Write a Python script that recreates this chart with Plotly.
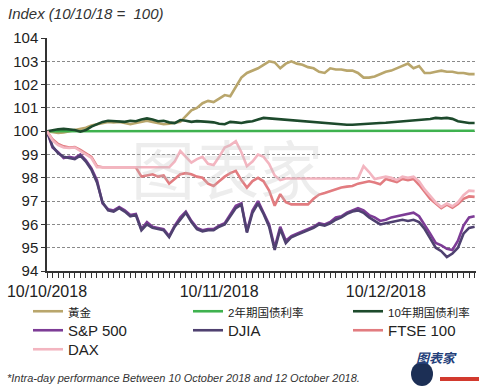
import pandas as pd
import plotly.graph_objects as go

# ---------------- data ----------------
start_date = "2018-10-10"
end_date = "2018-12-26"
dates = pd.date_range(start_date, end_date, freq="D")

gold = [100.0, 99.95, 99.92, 99.95, 100.0, 100.05, 100.1, 100.15, 100.25, 100.3,
        100.35, 100.4, 100.38, 100.4, 100.35, 100.3, 100.35, 100.4, 100.45, 100.4,
        100.35, 100.3, 100.32, 100.35, 100.4, 100.65, 100.9, 101.0, 101.2, 101.3,
        101.25, 101.4, 101.55, 101.5, 101.9, 102.3, 102.5, 102.6, 102.7, 102.85,
        103.0, 102.95, 102.7, 102.9, 103.0, 102.9, 102.85, 102.75, 102.7, 102.55,
        102.5, 102.7, 102.65, 102.65, 102.6, 102.6, 102.5, 102.3, 102.3, 102.35,
        102.45, 102.55, 102.6, 102.7, 102.8, 102.9, 102.7, 102.8, 102.5, 102.5,
        102.55, 102.6, 102.55, 102.55, 102.5, 102.5, 102.45, 102.45]

yield_2y = [100.0, 100.0, 100.01, 100.0, 100.0, 100.01, 100.0, 100.0, 100.0, 100.01,
            100.0, 100.0, 100.0, 100.01, 100.0, 100.0, 100.0, 100.01, 100.0, 100.0,
            100.0, 100.01, 100.0, 100.0, 100.0, 100.01, 100.0, 100.0, 100.0, 100.01,
            100.0, 100.0, 100.0, 100.01, 100.0, 100.0, 100.0, 100.01, 100.0, 100.0,
            100.0, 100.01, 100.0, 100.0, 100.0, 100.01, 100.0, 100.0, 100.0, 100.01,
            100.0, 100.0, 100.0, 100.01, 100.0, 100.0, 100.0, 100.01, 100.0, 100.0,
            100.01, 100.02, 100.02, 100.02, 100.03, 100.02, 100.02, 100.02, 100.03, 100.02,
            100.02, 100.02, 100.03, 100.02, 100.02, 100.02, 100.02, 100.02]

yield_10y = [100.0, 100.05, 100.08, 100.1, 100.08, 100.05, 99.98, 100.05, 100.2, 100.3,
             100.4, 100.45, 100.43, 100.42, 100.4, 100.45, 100.43, 100.5, 100.55, 100.5,
             100.43, 100.45, 100.38, 100.35, 100.48, 100.45, 100.4, 100.43, 100.4, 100.4,
             100.38, 100.32, 100.3, 100.4, 100.38, 100.35, 100.4, 100.43, 100.5, 100.57,
             100.55, 100.53, 100.5, 100.48, 100.46, 100.45, 100.45, 100.42, 100.4, 100.38,
             100.36, 100.35, 100.33, 100.3, 100.28, 100.28, 100.3, 100.3, 100.32, 100.33,
             100.35, 100.36, 100.38, 100.38, 100.4, 100.42, 100.44, 100.47, 100.5, 100.52,
             100.57, 100.55, 100.57, 100.53, 100.43, 100.38, 100.35, 100.35]

sp500 = [100.0, 99.3, 99.1, 98.85, 98.9, 98.85, 99.0, 98.75, 98.4, 97.9,
         96.9, 96.65, 96.6, 96.75, 96.6, 96.4, 96.45, 95.8, 96.1, 95.9,
         95.85, 95.8, 95.5, 95.95, 96.3, 96.55, 96.15, 95.85, 95.75, 95.8,
         95.8, 95.95, 96.05, 96.4, 96.8, 96.9, 95.7, 96.6, 97.0, 96.5,
         96.0, 95.0, 95.9, 95.3, 95.5, 95.6, 95.7, 95.8, 95.9, 96.05,
         96.0, 96.1, 96.3, 96.35, 96.5, 96.6, 96.7, 96.6, 96.4, 96.3,
         96.15, 96.2, 96.3, 96.35, 96.4, 96.45, 96.5, 96.35, 96.0, 95.6,
         95.2, 95.1, 94.95, 94.9, 95.3, 95.95, 96.3, 96.35]

djia = [100.0, 99.35, 99.05, 98.9, 98.85, 98.8, 98.95, 98.7, 98.35, 97.8,
        96.95, 96.6, 96.55, 96.7, 96.55, 96.35, 96.4, 95.75, 96.0, 95.85,
        95.8, 95.75, 95.45, 95.9, 96.2, 96.5, 96.1, 95.8, 95.7, 95.75,
        95.75, 95.9, 96.0, 96.35, 96.7, 96.85, 95.65, 96.5, 96.9, 96.45,
        95.9, 94.9, 95.8, 95.2, 95.45, 95.55, 95.65, 95.75, 95.85, 96.0,
        95.95, 96.05, 96.2, 96.3, 96.45, 96.55, 96.6, 96.5, 96.3, 96.15,
        96.0, 96.05, 96.1, 96.15, 96.2, 96.15, 96.2, 96.1, 95.8, 95.4,
        95.0, 94.85, 94.6, 94.75, 95.0, 95.6, 95.85, 95.9]

ftse100 = [100.0, 99.65, 99.45, 99.35, 99.3, 99.32, 99.2, 99.05, 98.9, 98.5,
           98.45, 98.45, 98.45, 98.45, 98.45, 98.45, 98.45, 98.05, 98.1, 98.15,
           98.05, 98.1, 97.75, 97.95, 98.15, 98.2, 98.15, 98.05, 98.0, 97.75,
           97.65, 97.85, 98.05, 98.2, 98.3, 97.9, 97.58, 97.86, 98.0, 97.85,
           97.45, 96.8, 97.3, 96.95, 96.86, 96.86, 96.86, 96.86, 97.1, 97.28,
           97.35, 97.43, 97.5, 97.58, 97.62, 97.65, 97.75, 97.8, 97.85, 97.8,
           97.72, 97.95, 97.9, 97.82, 97.95, 97.9, 97.95, 97.7, 97.4, 97.1,
           96.9, 96.7, 96.85, 96.72, 96.88, 97.1, 97.2, 97.18]

dax = [100.0, 99.6, 99.4, 99.3, 99.28, 99.3, 99.15, 99.0, 98.85, 98.45,
       98.45, 98.45, 98.45, 98.45, 98.45, 98.45, 98.45, 98.45, 98.45, 98.45,
       98.45, 98.45, 98.45, 98.7, 99.15, 98.9, 98.65, 98.8, 98.9, 98.6,
       98.55, 98.9, 99.3, 99.4, 99.57, 99.1, 98.5, 98.7, 99.0, 98.9,
       98.6, 98.1, 97.9, 97.97, 97.97, 97.97, 97.97, 97.97, 97.97, 97.97,
       97.97, 97.97, 97.97, 97.97, 97.97, 97.97, 97.97, 98.5, 98.25, 97.95,
       98.0, 98.05, 98.0, 97.9, 98.05, 98.0, 98.05, 97.85, 97.5, 97.2,
       96.95, 96.75, 96.9, 96.78, 96.95, 97.25, 97.45, 97.43]

series_names = ["黃金", "2年期国债利率", "10年期国债利率", "S&P 500", "DJIA", "FTSE 100", "DAX"]
series_values = [gold, yield_2y, yield_10y, sp500, djia, ftse100, dax]
series_colors = ["#b9a66c", "#3fb24f", "#1d4a2c", "#7d3c96", "#4f4170", "#e27c80", "#f3b5c0"]
legend_rows = ["legend", "legend", "legend", "legend2", "legend2", "legend2", "legend3"]
cjk_names = {"黃金", "2年期国债利率", "10年期国债利率"}

tick_dates = ["2018-10-10", "2018-11-10", "2018-12-10"]
tick_labels = ["10/10/2018", "10/11/2018", "10/12/2018"]
y_ticks = [94, 95, 96, 97, 98, 99, 100, 101, 102, 103, 104]

title_text = "Index (10/10/18 =  100)"
footnote_text = "*Intra-day performance Between 10 October 2018 and 12 October 2018."

# ---------------- figure ----------------
FONT = "Liberation Sans, Arial, Noto Sans CJK SC, sans-serif"
PX0, PX1, PY0, PY1 = 47, 476, 271, 38   # plot area in pixels (for paper refs)
PW, PH = PX1 - PX0, PY0 - PY1


def px(x):
    return (x - PX0) / PW


def py(y):
    return (PY0 - y) / PH


fig = go.Figure()
for name, vals, col, lg in zip(series_names, series_values, series_colors, legend_rows):
    label = f'<span style="font-size:11.5px">{name}</span>' if name in cjk_names else name
    fig.add_trace(go.Scatter(x=dates, y=vals, mode="lines", name=label, legend=lg,
                             line=dict(color=col, width=2.6)))

# daily tick positions with labels only on the chosen dates
all_days = pd.date_range(start_date, end_date, freq="D")
label_map = {pd.Timestamp(d): t for d, t in zip(tick_dates, tick_labels)}
xt_text = [label_map.get(d, "") for d in all_days]


def legend_row(ycenter):
    return dict(orientation="h", x=px(28), y=py(ycenter), xanchor="left", yanchor="middle",
                entrywidth=115, entrywidthmode="pixels",
                font=dict(size=15, color="#222"), bgcolor="rgba(0,0,0,0)")


fig.update_layout(
    width=500, height=387,
    margin=dict(l=PX0, r=500 - PX1, t=PY1, b=387 - PY0, autoexpand=False),
    paper_bgcolor="white", plot_bgcolor="white",
    font=dict(family=FONT, size=15, color="#222"),
    showlegend=True,
    legend=legend_row(311.5),
    legend2=legend_row(330.5),
    legend3=legend_row(349.5),
    title=dict(text=f"<i>{title_text}</i>", x=8 / 500, xanchor="left",
               y=1 - 14 / 387, yanchor="middle",
               font=dict(size=15, color="#333", family=FONT)),
)

fig.update_xaxes(
    type="date",
    range=[pd.Timestamp(start_date), pd.Timestamp(end_date) + pd.Timedelta(hours=6)],
    tickmode="array", tickvals=list(all_days), ticktext=xt_text,
    ticks="outside", ticklen=5, tickwidth=1, tickcolor="#333",
    showline=True, linecolor="#333", linewidth=1.5,
    showgrid=False, zeroline=False,
    tickfont=dict(size=16, color="#222"),
)
fig.update_yaxes(
    range=[94, 104], tickmode="array", tickvals=y_ticks,
    ticks="outside", ticklen=4, tickcolor="#333",
    showline=True, linecolor="#333", linewidth=1.5,
    showgrid=True, gridcolor="#8a8a8a", gridwidth=1, griddash="3px,2px",
    zeroline=False, tickfont=dict(size=15, color="#222"),
)

# watermark
fig.add_annotation(text="图表家", xref="paper", yref="paper", x=0.42, y=0.45,
                   showarrow=False, font=dict(size=64, color="rgba(190,190,190,0.28)",
                                              family="Noto Sans CJK SC"))
# footnote
fig.add_annotation(text=f"<i>{footnote_text}</i>", xref="paper", yref="paper",
                   x=px(5), y=py(378), xanchor="left", yanchor="middle",
                   showarrow=False, font=dict(size=11, color="#333", family=FONT))
# logo
fig.add_shape(type="circle", xref="paper", yref="paper",
              x0=px(411), x1=px(433), y0=py(386), y1=py(362),
              fillcolor="#1c2f55", line=dict(width=0))
fig.add_annotation(text="<b><i>图表家</i></b>", xref="paper", yref="paper",
                   x=px(459), y=py(369), showarrow=False,
                   font=dict(size=13, color="#24407a", family="Noto Sans CJK SC"))
fig.add_shape(type="rect", xref="paper", yref="paper",
              x0=px(440), x1=px(479), y0=py(381), y1=py(377),
              fillcolor="#d23a2e", line=dict(width=0))

fig.write_html("out.html", config={"displayModeBar": False},
               post_script="document.body.style.margin='0px';")
